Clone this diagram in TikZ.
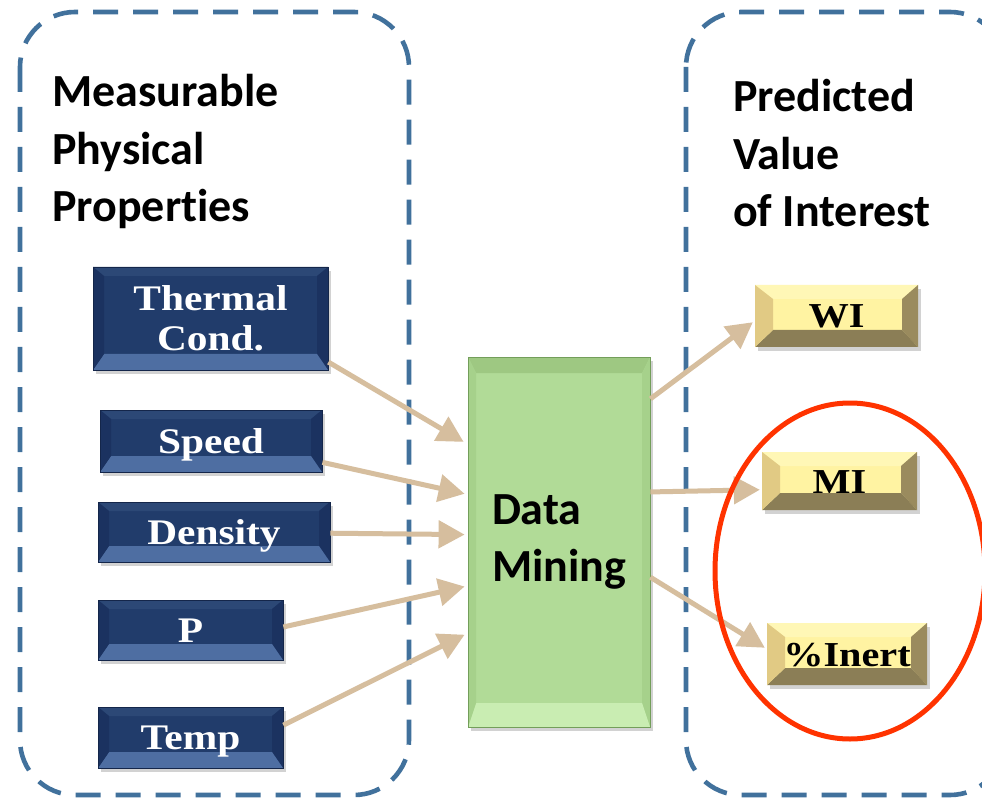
\documentclass[tikz,border=0pt]{standalone}
\usepackage{fontspec}
\usetikzlibrary{arrows.meta,shadows,calc}
\newfontfamily\calb{Carlito}[Ligatures=NoCommon]
\newfontfamily\serb{Liberation Serif}[FakeStretch=1.15]
\definecolor{dashblue}{HTML}{41719C}
\definecolor{arrowtan}{HTML}{D6BE9E}
\definecolor{ringred}{HTML}{FF3300}
\definecolor{navyface}{HTML}{213C6B}
\definecolor{navytop}{HTML}{2C4876}
\definecolor{navyside}{HTML}{1B3260}
\definecolor{navybottom}{HTML}{4E6EA2}
\definecolor{navyedge}{HTML}{14264A}
\definecolor{yelface}{HTML}{FFF3A2}
\definecolor{yeltop}{HTML}{FFF7B6}
\definecolor{yelleft}{HTML}{E1CA84}
\definecolor{yelright}{HTML}{9A8B5E}
\definecolor{yelbottom}{HTML}{8B7E56}
\definecolor{grnface}{HTML}{B1DB97}
\definecolor{grntop}{HTML}{9EC882}
\definecolor{grnside}{HTML}{A6D18B}
\definecolor{grnbottom}{HTML}{C9EDB2}
\definecolor{grnedge}{HTML}{739E5A}
\newcommand\bevelfill[8]{%
  \coordinate (bNW) at (path picture bounding box.north west);
  \coordinate (bNE) at (path picture bounding box.north east);
  \coordinate (bSE) at (path picture bounding box.south east);
  \coordinate (bSW) at (path picture bounding box.south west);
  \coordinate (iNW) at ([shift={(#1,#2)}]bNW);
  \coordinate (iNE) at ([shift={(-#3,#2)}]bNE);
  \coordinate (iSE) at ([shift={(-#3,-#4)}]bSE);
  \coordinate (iSW) at ([shift={(#1,-#4)}]bSW);
  \fill[#5] (bNW) -- (bNE) -- (iNE) -- (iNW) -- cycle;
  \fill[#6] (bNE) -- (bSE) -- (iSE) -- (iNE) -- cycle;
  \fill[#7] (bSE) -- (bSW) -- (iSW) -- (iSE) -- cycle;
  \fill[#8] (bSW) -- (bNW) -- (iNW) -- (iSW) -- cycle;
}
\tikzset{
  every node/.style={inner sep=0pt},
  dashbox/.style={draw=dashblue, line width=4.6pt, dash pattern=on 25pt off 15pt, rounded corners=55pt},
  title/.style={font={\calb\bfseries\fontsize{46}{57.5}\selectfont}, align=left, anchor=base west},
  navybox/.style={rectangle, fill=navyface, draw=navyedge, line width=0.8pt,
    drop shadow={opacity=0.35, shadow xshift=3pt, shadow yshift=-4pt},
    path picture={\bevelfill{11}{9}{11}{16}{navytop}{navyside}{navybottom}{navyside}},
    text=white, font={\serb\bfseries\fontsize{36}{40}\selectfont}, align=center},
  yelbox/.style={rectangle, fill=yelface,
    drop shadow={opacity=0.35, shadow xshift=3pt, shadow yshift=-4pt},
    path picture={\bevelfill{18}{14}{16}{17}{yeltop}{yelright}{yelbottom}{yelleft}},
    text=black, font={\serb\bfseries\fontsize{35}{40}\selectfont}},
  grnbox/.style={rectangle, fill=grnface, draw=grnedge, line width=0.8pt,
    drop shadow={opacity=0.35, shadow xshift=3pt, shadow yshift=-4pt},
    path picture={\bevelfill{8}{16}{8}{24}{grntop}{grnside}{grnbottom}{grnside}},
    text=black, font={\calb\bfseries\fontsize{46}{57}\selectfont}, align=left},
  flow/.style={draw=arrowtan, line width=5pt, -{Triangle[length=26pt,width=27pt]}},
}
\begin{document}
\begin{tikzpicture}[x=1pt,y=-1pt]
\useasboundingbox (0,0) rectangle (982,799);
\clip (0,0) rectangle (982,799);
\fill[white] (0,0) rectangle (982,799);
% dashed groups
\draw[dashbox] (20,12) rectangle (409,795);
\draw[dashbox] (686,12) rectangle (1005,795);
% titles (anchor = baseline of the last line)
\node[title] (lt) at (52,222) {Measurable\\Physical\\Properties};
\node[title] (rt) at (733,227) {Predicted\\Value\\of Interest};
% input boxes
\node[navybox, minimum width=235pt, minimum height=103pt] (tc) at (210.5,318.5) {Thermal\\Cond.};
\node[navybox, minimum width=222pt, minimum height=62pt, text height=24pt, text depth=0pt] (sp) at (211,441) {Speed};
\node[navybox, minimum width=232pt, minimum height=60pt, text height=24pt, text depth=0pt] (de) at (214,532) {Density};
\node[navybox, minimum width=185pt, minimum height=60pt, text height=24pt, text depth=0pt] (pp) at (190.5,630) {P};
\node[navybox, minimum width=185pt, minimum height=61pt, text height=24pt, text depth=0pt] (te) at (190.5,737.5) {Temp};
% data mining
\node[grnbox, minimum width=182pt, minimum height=370pt] (dm) at (559,542) {Data\\Mining};
% outputs
\node[yelbox, minimum width=163pt, minimum height=62pt, text height=24pt, text depth=0pt] (wi) at (836.5,316) {WI};
\node[yelbox, minimum width=155pt, minimum height=58pt, text height=24pt, text depth=0pt] (mi) at (839.5,481) {MI};
\node[yelbox, minimum width=160pt, minimum height=62pt, text height=24pt, text depth=0pt] (ie) at (847,654) {\%Inert};
% arrows in
\draw[flow] ($(tc.north east)!0.92!(tc.south east)$) -- ($(dm.north west)!0.23!(dm.south west)+(-4,0)$);
\draw[flow] ($(sp.north east)!0.84!(sp.south east)$) -- ($(dm.north west)!0.37!(dm.south west)+(-3,0)$);
\draw[flow] ($(de.north east)!0.52!(de.south east)$) -- ($(dm.north west)!0.48!(dm.south west)+(-3,0)$);
\draw[flow] ($(pp.north east)!0.45!(pp.south east)$) -- ($(dm.north west)!0.62!(dm.south west)+(-3,0)$);
\draw[flow] ($(te.north east)!0.30!(te.south east)$) -- ($(dm.north west)!0.75!(dm.south west)+(-3,0)$);
% arrows out
\draw[flow] ($(dm.north east)!0.114!(dm.south east)$) -- ($(wi.north west)!0.6!(wi.south west)+(-2,0)$);
\draw[flow] ($(dm.north east)!0.365!(dm.south east)$) -- ($(mi.north west)!0.65!(mi.south west)+(-2,0)$);
\draw[flow] ($(dm.north east)!0.595!(dm.south east)$) -- ($(ie.north west)!0.4!(ie.south west)+(-2,0)$);
% highlight ring
\draw[draw=ringred, line width=5pt] (850,571) ellipse [x radius=135pt, y radius=168pt];
\end{tikzpicture}
\end{document}
